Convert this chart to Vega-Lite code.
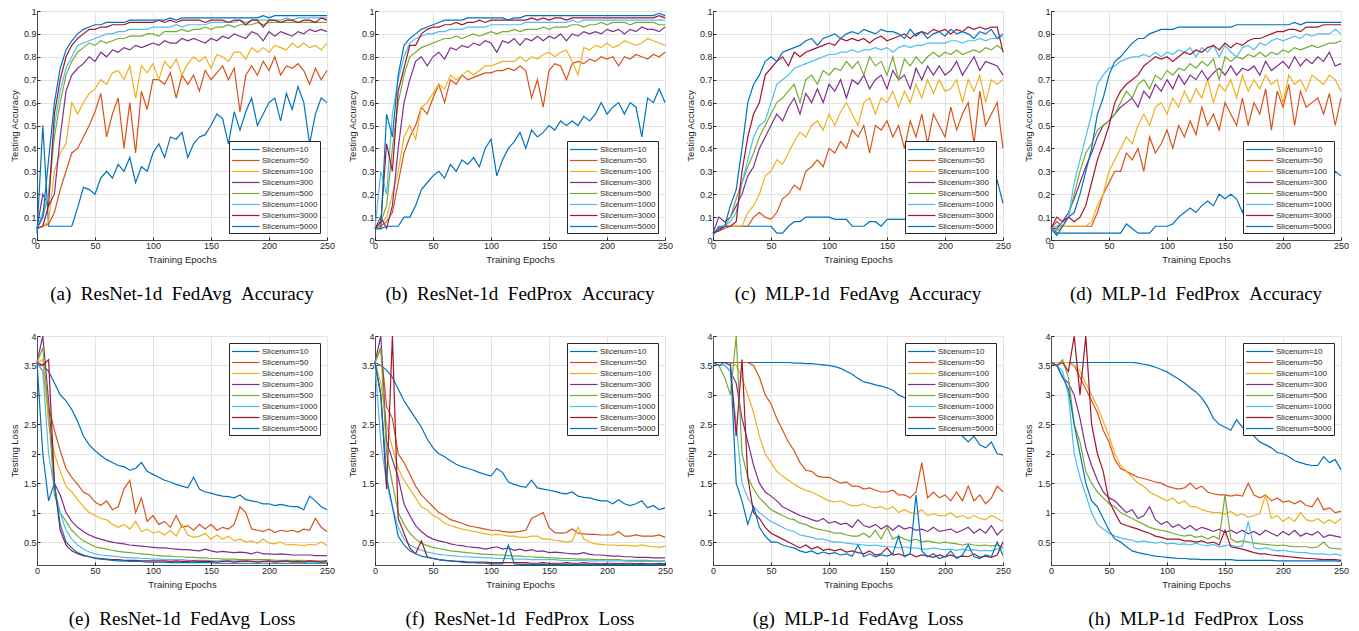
{
  "$schema": "https://vega.github.io/schema/vega-lite/v6.json",
  "background": "white",
  "padding": {"left": 8, "top": 6, "right": 0, "bottom": 0},
  "columns": 4,
  "bounds": "flush",
  "spacing": {"row": 96, "column": 48},
  "resolve": {"scale": {"color": "independent"}, "legend": {"color": "independent"}},
  "config": {
    "view": {"stroke": "#dedede", "strokeWidth": 1},
    "axis": {
      "labelFont": "Liberation Sans", "titleFont": "Liberation Sans",
      "labelFontSize": 9, "titleFontSize": 9.5, "titleFontWeight": "normal",
      "labelColor": "#262626", "titleColor": "#262626",
      "domainColor": "#262626", "tickColor": "#262626", "domainWidth": 0.8,
      "gridColor": "#e3e3e3", "tickSize": -3, "labelPadding": 4, "titlePadding": 4,
      "labelFlush": false
    },
    "legend": {
      "padding": 2, "strokeColor": "#262626", "fillColor": "white", "offset": 7,
      "labelFont": "Liberation Sans", "labelFontSize": 8, "labelColor": "#262626",
      "symbolType": "M-1,0H4", "symbolStrokeWidth": 1.5, "symbolSize": 121,
      "labelOffset": 18, "rowPadding": 0, "labelLimit": 200
    },
    "title": {
      "font": "Liberation Serif", "fontSize": 19, "fontWeight": "normal", "color": "black",
      "orient": "bottom", "anchor": "middle", "frame": "group", "offset": 21
    },
    "line": {"strokeWidth": 1.2, "clip": true}
  },
  "datasets": {
    "a": [
      {"e":0,"10":0.03,"50":0.05,"100":0.05,"300":0.05,"500":0.05,"1000":0.05,"3000":0.05,"5000":0.05},
      {"e":5,"10":0.5,"50":0.06,"100":0.06,"300":0.2,"500":0.1,"1000":0.12,"3000":0.06,"5000":0.1},
      {"e":10,"10":0.06,"50":0.07,"100":0.08,"300":0.15,"500":0.2,"1000":0.2,"3000":0.15,"5000":0.35},
      {"e":15,"10":0.06,"50":0.12,"100":0.3,"300":0.2,"500":0.45,"1000":0.5,"3000":0.55,"5000":0.6},
      {"e":20,"10":0.06,"50":0.22,"100":0.38,"300":0.45,"500":0.6,"1000":0.65,"3000":0.7,"5000":0.75},
      {"e":25,"10":0.06,"50":0.3,"100":0.42,"300":0.65,"500":0.72,"1000":0.75,"3000":0.8,"5000":0.83},
      {"e":30,"10":0.06,"50":0.38,"100":0.6,"300":0.72,"500":0.78,"1000":0.8,"3000":0.85,"5000":0.87},
      {"e":35,"10":0.14,"50":0.4,"100":0.55,"300":0.75,"500":0.82,"1000":0.85,"3000":0.88,"5000":0.9},
      {"e":40,"10":0.23,"50":0.45,"100":0.6,"300":0.77,"500":0.84,"1000":0.86,"3000":0.9,"5000":0.92},
      {"e":45,"10":0.22,"50":0.5,"100":0.64,"300":0.8,"500":0.86,"1000":0.87,"3000":0.92,"5000":0.93},
      {"e":50,"10":0.2,"50":0.56,"100":0.66,"300":0.78,"500":0.85,"1000":0.88,"3000":0.92,"5000":0.94},
      {"e":55,"10":0.27,"50":0.64,"100":0.7,"300":0.82,"500":0.87,"1000":0.89,"3000":0.93,"5000":0.94},
      {"e":60,"10":0.3,"50":0.45,"100":0.68,"300":0.8,"500":0.86,"1000":0.9,"3000":0.93,"5000":0.95},
      {"e":65,"10":0.27,"50":0.55,"100":0.73,"300":0.83,"500":0.87,"1000":0.9,"3000":0.94,"5000":0.95},
      {"e":70,"10":0.33,"50":0.62,"100":0.74,"300":0.82,"500":0.88,"1000":0.91,"3000":0.94,"5000":0.95},
      {"e":75,"10":0.3,"50":0.4,"100":0.7,"300":0.84,"500":0.88,"1000":0.91,"3000":0.94,"5000":0.95},
      {"e":80,"10":0.36,"50":0.6,"100":0.76,"300":0.83,"500":0.89,"1000":0.92,"3000":0.95,"5000":0.96},
      {"e":85,"10":0.25,"50":0.38,"100":0.62,"300":0.85,"500":0.89,"1000":0.92,"3000":0.95,"5000":0.96},
      {"e":90,"10":0.32,"50":0.65,"100":0.76,"300":0.84,"500":0.89,"1000":0.92,"3000":0.95,"5000":0.96},
      {"e":95,"10":0.3,"50":0.57,"100":0.73,"300":0.85,"500":0.9,"1000":0.92,"3000":0.95,"5000":0.96},
      {"e":100,"10":0.38,"50":0.7,"100":0.77,"300":0.86,"500":0.9,"1000":0.93,"3000":0.95,"5000":0.96},
      {"e":105,"10":0.42,"50":0.7,"100":0.7,"300":0.85,"500":0.89,"1000":0.93,"3000":0.96,"5000":0.96},
      {"e":110,"10":0.36,"50":0.68,"100":0.78,"300":0.87,"500":0.91,"1000":0.93,"3000":0.95,"5000":0.96},
      {"e":115,"10":0.45,"50":0.73,"100":0.75,"300":0.86,"500":0.91,"1000":0.93,"3000":0.96,"5000":0.97},
      {"e":120,"10":0.44,"50":0.62,"100":0.79,"300":0.86,"500":0.91,"1000":0.94,"3000":0.95,"5000":0.96},
      {"e":125,"10":0.47,"50":0.72,"100":0.72,"300":0.88,"500":0.92,"1000":0.93,"3000":0.96,"5000":0.97},
      {"e":130,"10":0.36,"50":0.68,"100":0.77,"300":0.87,"500":0.91,"1000":0.94,"3000":0.96,"5000":0.97},
      {"e":135,"10":0.42,"50":0.72,"100":0.8,"300":0.88,"500":0.92,"1000":0.94,"3000":0.96,"5000":0.97},
      {"e":140,"10":0.45,"50":0.65,"100":0.78,"300":0.87,"500":0.92,"1000":0.94,"3000":0.96,"5000":0.97},
      {"e":145,"10":0.46,"50":0.74,"100":0.8,"300":0.86,"500":0.93,"1000":0.94,"3000":0.95,"5000":0.97},
      {"e":150,"10":0.5,"50":0.7,"100":0.75,"300":0.88,"500":0.92,"1000":0.95,"3000":0.96,"5000":0.97},
      {"e":155,"10":0.55,"50":0.73,"100":0.81,"300":0.87,"500":0.93,"1000":0.95,"3000":0.96,"5000":0.97},
      {"e":160,"10":0.53,"50":0.76,"100":0.8,"300":0.89,"500":0.93,"1000":0.95,"3000":0.96,"5000":0.97},
      {"e":165,"10":0.42,"50":0.7,"100":0.78,"300":0.88,"500":0.94,"1000":0.95,"3000":0.95,"5000":0.97},
      {"e":170,"10":0.56,"50":0.75,"100":0.82,"300":0.9,"500":0.93,"1000":0.95,"3000":0.96,"5000":0.97},
      {"e":175,"10":0.48,"50":0.56,"100":0.82,"300":0.89,"500":0.94,"1000":0.96,"3000":0.96,"5000":0.97},
      {"e":180,"10":0.56,"50":0.72,"100":0.79,"300":0.88,"500":0.94,"1000":0.95,"3000":0.94,"5000":0.97},
      {"e":185,"10":0.62,"50":0.76,"100":0.84,"300":0.91,"500":0.94,"1000":0.96,"3000":0.96,"5000":0.97},
      {"e":190,"10":0.5,"50":0.72,"100":0.82,"300":0.9,"500":0.95,"1000":0.96,"3000":0.96,"5000":0.97},
      {"e":195,"10":0.55,"50":0.78,"100":0.84,"300":0.87,"500":0.94,"1000":0.96,"3000":0.93,"5000":0.98},
      {"e":200,"10":0.6,"50":0.74,"100":0.82,"300":0.91,"500":0.95,"1000":0.96,"3000":0.96,"5000":0.97},
      {"e":205,"10":0.62,"50":0.8,"100":0.85,"300":0.89,"500":0.95,"1000":0.96,"3000":0.96,"5000":0.98},
      {"e":210,"10":0.52,"50":0.72,"100":0.84,"300":0.91,"500":0.95,"1000":0.96,"3000":0.95,"5000":0.98},
      {"e":215,"10":0.64,"50":0.76,"100":0.83,"300":0.9,"500":0.95,"1000":0.97,"3000":0.96,"5000":0.98},
      {"e":220,"10":0.57,"50":0.75,"100":0.86,"300":0.89,"500":0.95,"1000":0.96,"3000":0.96,"5000":0.98},
      {"e":225,"10":0.67,"50":0.77,"100":0.84,"300":0.91,"500":0.95,"1000":0.97,"3000":0.95,"5000":0.98},
      {"e":230,"10":0.6,"50":0.74,"100":0.86,"300":0.9,"500":0.95,"1000":0.97,"3000":0.96,"5000":0.98},
      {"e":235,"10":0.42,"50":0.68,"100":0.84,"300":0.92,"500":0.95,"1000":0.97,"3000":0.96,"5000":0.98},
      {"e":240,"10":0.55,"50":0.75,"100":0.85,"300":0.91,"500":0.95,"1000":0.97,"3000":0.95,"5000":0.98},
      {"e":245,"10":0.62,"50":0.7,"100":0.83,"300":0.92,"500":0.95,"1000":0.97,"3000":0.97,"5000":0.98},
      {"e":250,"10":0.6,"50":0.74,"100":0.86,"300":0.91,"500":0.95,"1000":0.97,"3000":0.96,"5000":0.98}
    ],
    "b": [
      {"e":0,"10":0.05,"50":0.05,"100":0.05,"300":0.05,"500":0.05,"1000":0.05,"3000":0.05,"5000":0.05},
      {"e":5,"10":0.05,"50":0.06,"100":0.07,"300":0.1,"500":0.08,"1000":0.3,"3000":0.08,"5000":0.05},
      {"e":10,"10":0.06,"50":0.08,"100":0.1,"300":0.05,"500":0.15,"1000":0.2,"3000":0.42,"5000":0.55},
      {"e":15,"10":0.06,"50":0.12,"100":0.2,"300":0.15,"500":0.4,"1000":0.55,"3000":0.3,"5000":0.45},
      {"e":20,"10":0.06,"50":0.25,"100":0.3,"300":0.4,"500":0.6,"1000":0.7,"3000":0.65,"5000":0.72},
      {"e":25,"10":0.1,"50":0.38,"100":0.45,"300":0.6,"500":0.72,"1000":0.8,"3000":0.75,"5000":0.85},
      {"e":30,"10":0.1,"50":0.45,"100":0.5,"300":0.7,"500":0.8,"1000":0.86,"3000":0.85,"5000":0.88},
      {"e":35,"10":0.15,"50":0.5,"100":0.44,"300":0.78,"500":0.82,"1000":0.88,"3000":0.85,"5000":0.9},
      {"e":40,"10":0.22,"50":0.58,"100":0.58,"300":0.8,"500":0.84,"1000":0.89,"3000":0.9,"5000":0.92},
      {"e":45,"10":0.25,"50":0.55,"100":0.6,"300":0.76,"500":0.85,"1000":0.9,"3000":0.92,"5000":0.93},
      {"e":50,"10":0.28,"50":0.62,"100":0.64,"300":0.8,"500":0.86,"1000":0.9,"3000":0.93,"5000":0.94},
      {"e":55,"10":0.3,"50":0.68,"100":0.68,"300":0.82,"500":0.87,"1000":0.91,"3000":0.93,"5000":0.95},
      {"e":60,"10":0.27,"50":0.6,"100":0.66,"300":0.79,"500":0.88,"1000":0.91,"3000":0.94,"5000":0.96},
      {"e":65,"10":0.33,"50":0.7,"100":0.72,"300":0.84,"500":0.88,"1000":0.92,"3000":0.94,"5000":0.96},
      {"e":70,"10":0.3,"50":0.68,"100":0.7,"300":0.83,"500":0.89,"1000":0.92,"3000":0.95,"5000":0.96},
      {"e":75,"10":0.35,"50":0.72,"100":0.72,"300":0.85,"500":0.88,"1000":0.92,"3000":0.94,"5000":0.96},
      {"e":80,"10":0.33,"50":0.7,"100":0.74,"300":0.84,"500":0.89,"1000":0.93,"3000":0.95,"5000":0.97},
      {"e":85,"10":0.36,"50":0.71,"100":0.72,"300":0.86,"500":0.9,"1000":0.93,"3000":0.95,"5000":0.97},
      {"e":90,"10":0.32,"50":0.72,"100":0.74,"300":0.85,"500":0.89,"1000":0.93,"3000":0.96,"5000":0.97},
      {"e":95,"10":0.4,"50":0.73,"100":0.76,"300":0.87,"500":0.9,"1000":0.93,"3000":0.95,"5000":0.97},
      {"e":100,"10":0.44,"50":0.73,"100":0.76,"300":0.86,"500":0.91,"1000":0.94,"3000":0.96,"5000":0.97},
      {"e":105,"10":0.28,"50":0.74,"100":0.77,"300":0.82,"500":0.9,"1000":0.94,"3000":0.96,"5000":0.97},
      {"e":110,"10":0.35,"50":0.74,"100":0.78,"300":0.87,"500":0.91,"1000":0.94,"3000":0.96,"5000":0.97},
      {"e":115,"10":0.4,"50":0.75,"100":0.78,"300":0.86,"500":0.91,"1000":0.94,"3000":0.96,"5000":0.96},
      {"e":120,"10":0.43,"50":0.74,"100":0.78,"300":0.88,"500":0.92,"1000":0.94,"3000":0.96,"5000":0.97},
      {"e":125,"10":0.47,"50":0.76,"100":0.8,"300":0.85,"500":0.91,"1000":0.94,"3000":0.96,"5000":0.97},
      {"e":130,"10":0.4,"50":0.74,"100":0.78,"300":0.88,"500":0.92,"1000":0.95,"3000":0.96,"5000":0.98},
      {"e":135,"10":0.48,"50":0.62,"100":0.8,"300":0.87,"500":0.92,"1000":0.95,"3000":0.97,"5000":0.98},
      {"e":140,"10":0.45,"50":0.7,"100":0.79,"300":0.89,"500":0.92,"1000":0.95,"3000":0.96,"5000":0.98},
      {"e":145,"10":0.47,"50":0.58,"100":0.81,"300":0.87,"500":0.93,"1000":0.95,"3000":0.97,"5000":0.98},
      {"e":150,"10":0.5,"50":0.74,"100":0.82,"300":0.89,"500":0.92,"1000":0.95,"3000":0.96,"5000":0.98},
      {"e":155,"10":0.48,"50":0.77,"100":0.8,"300":0.88,"500":0.93,"1000":0.95,"3000":0.97,"5000":0.98},
      {"e":160,"10":0.52,"50":0.76,"100":0.82,"300":0.9,"500":0.93,"1000":0.95,"3000":0.97,"5000":0.98},
      {"e":165,"10":0.5,"50":0.7,"100":0.83,"300":0.87,"500":0.93,"1000":0.95,"3000":0.96,"5000":0.98},
      {"e":170,"10":0.52,"50":0.77,"100":0.78,"300":0.9,"500":0.94,"1000":0.96,"3000":0.97,"5000":0.98},
      {"e":175,"10":0.5,"50":0.78,"100":0.72,"300":0.89,"500":0.94,"1000":0.95,"3000":0.97,"5000":0.98},
      {"e":180,"10":0.54,"50":0.77,"100":0.84,"300":0.91,"500":0.93,"1000":0.96,"3000":0.97,"5000":0.98},
      {"e":185,"10":0.52,"50":0.79,"100":0.83,"300":0.9,"500":0.94,"1000":0.96,"3000":0.97,"5000":0.98},
      {"e":190,"10":0.55,"50":0.78,"100":0.85,"300":0.91,"500":0.94,"1000":0.96,"3000":0.97,"5000":0.98},
      {"e":195,"10":0.6,"50":0.8,"100":0.84,"300":0.9,"500":0.95,"1000":0.96,"3000":0.97,"5000":0.98},
      {"e":200,"10":0.55,"50":0.79,"100":0.86,"300":0.92,"500":0.94,"1000":0.96,"3000":0.97,"5000":0.98},
      {"e":205,"10":0.58,"50":0.8,"100":0.84,"300":0.91,"500":0.95,"1000":0.96,"3000":0.97,"5000":0.98},
      {"e":210,"10":0.6,"50":0.76,"100":0.85,"300":0.92,"500":0.95,"1000":0.96,"3000":0.97,"5000":0.98},
      {"e":215,"10":0.55,"50":0.8,"100":0.87,"300":0.9,"500":0.95,"1000":0.96,"3000":0.97,"5000":0.98},
      {"e":220,"10":0.6,"50":0.79,"100":0.86,"300":0.92,"500":0.94,"1000":0.96,"3000":0.97,"5000":0.98},
      {"e":225,"10":0.58,"50":0.81,"100":0.85,"300":0.91,"500":0.95,"1000":0.96,"3000":0.97,"5000":0.98},
      {"e":230,"10":0.45,"50":0.8,"100":0.86,"300":0.93,"500":0.95,"1000":0.96,"3000":0.97,"5000":0.98},
      {"e":235,"10":0.62,"50":0.79,"100":0.88,"300":0.92,"500":0.95,"1000":0.96,"3000":0.97,"5000":0.98},
      {"e":240,"10":0.6,"50":0.81,"100":0.87,"300":0.92,"500":0.95,"1000":0.96,"3000":0.97,"5000":0.98},
      {"e":245,"10":0.66,"50":0.8,"100":0.86,"300":0.91,"500":0.94,"1000":0.96,"3000":0.98,"5000":0.99},
      {"e":250,"10":0.6,"50":0.82,"100":0.85,"300":0.93,"500":0.94,"1000":0.96,"3000":0.97,"5000":0.98}
    ],
    "c": [
      {"e":0,"10":0.02,"50":0.03,"100":0.03,"300":0.03,"500":0.03,"1000":0.03,"3000":0.03,"5000":0.03},
      {"e":5,"10":0.06,"50":0.04,"100":0.05,"300":0.1,"500":0.05,"1000":0.05,"3000":0.04,"5000":0.05},
      {"e":10,"10":0.06,"50":0.05,"100":0.06,"300":0.08,"500":0.06,"1000":0.06,"3000":0.06,"5000":0.06},
      {"e":15,"10":0.06,"50":0.06,"100":0.06,"300":0.1,"500":0.1,"1000":0.08,"3000":0.06,"5000":0.15},
      {"e":20,"10":0.06,"50":0.06,"100":0.06,"300":0.15,"500":0.18,"1000":0.12,"3000":0.08,"5000":0.22},
      {"e":25,"10":0.06,"50":0.06,"100":0.06,"300":0.2,"500":0.25,"1000":0.25,"3000":0.3,"5000":0.4},
      {"e":30,"10":0.06,"50":0.06,"100":0.12,"300":0.28,"500":0.32,"1000":0.35,"3000":0.45,"5000":0.6},
      {"e":35,"10":0.06,"50":0.1,"100":0.15,"300":0.32,"500":0.38,"1000":0.45,"3000":0.55,"5000":0.68},
      {"e":40,"10":0.06,"50":0.12,"100":0.2,"300":0.4,"500":0.45,"1000":0.5,"3000":0.6,"5000":0.72},
      {"e":45,"10":0.06,"50":0.1,"100":0.28,"300":0.45,"500":0.5,"1000":0.52,"3000":0.72,"5000":0.78},
      {"e":50,"10":0.06,"50":0.09,"100":0.3,"300":0.5,"500":0.55,"1000":0.6,"3000":0.75,"5000":0.8},
      {"e":55,"10":0.03,"50":0.12,"100":0.35,"300":0.55,"500":0.6,"1000":0.68,"3000":0.78,"5000":0.78},
      {"e":60,"10":0.03,"50":0.18,"100":0.33,"300":0.52,"500":0.62,"1000":0.7,"3000":0.8,"5000":0.82},
      {"e":65,"10":0.06,"50":0.2,"100":0.38,"300":0.58,"500":0.65,"1000":0.72,"3000":0.76,"5000":0.83},
      {"e":70,"10":0.08,"50":0.24,"100":0.43,"300":0.62,"500":0.68,"1000":0.75,"3000":0.82,"5000":0.84},
      {"e":75,"10":0.08,"50":0.22,"100":0.47,"300":0.55,"500":0.6,"1000":0.76,"3000":0.8,"5000":0.85},
      {"e":80,"10":0.1,"50":0.3,"100":0.45,"300":0.64,"500":0.7,"1000":0.77,"3000":0.82,"5000":0.87},
      {"e":85,"10":0.1,"50":0.32,"100":0.5,"300":0.6,"500":0.72,"1000":0.78,"3000":0.83,"5000":0.88},
      {"e":90,"10":0.1,"50":0.35,"100":0.52,"300":0.66,"500":0.68,"1000":0.79,"3000":0.84,"5000":0.85},
      {"e":95,"10":0.1,"50":0.32,"100":0.48,"300":0.6,"500":0.74,"1000":0.8,"3000":0.85,"5000":0.88},
      {"e":100,"10":0.1,"50":0.4,"100":0.55,"300":0.68,"500":0.72,"1000":0.81,"3000":0.86,"5000":0.89},
      {"e":105,"10":0.09,"50":0.38,"100":0.5,"300":0.65,"500":0.75,"1000":0.81,"3000":0.85,"5000":0.9},
      {"e":110,"10":0.09,"50":0.43,"100":0.56,"300":0.7,"500":0.74,"1000":0.82,"3000":0.88,"5000":0.88},
      {"e":115,"10":0.09,"50":0.4,"100":0.6,"300":0.62,"500":0.78,"1000":0.82,"3000":0.87,"5000":0.9},
      {"e":120,"10":0.06,"50":0.48,"100":0.55,"300":0.7,"500":0.75,"1000":0.83,"3000":0.88,"5000":0.91},
      {"e":125,"10":0.06,"50":0.45,"100":0.5,"300":0.68,"500":0.78,"1000":0.82,"3000":0.87,"5000":0.9},
      {"e":130,"10":0.06,"50":0.5,"100":0.6,"300":0.72,"500":0.72,"1000":0.83,"3000":0.88,"5000":0.92},
      {"e":135,"10":0.08,"50":0.38,"100":0.62,"300":0.66,"500":0.8,"1000":0.83,"3000":0.86,"5000":0.91},
      {"e":140,"10":0.08,"50":0.5,"100":0.55,"300":0.7,"500":0.76,"1000":0.84,"3000":0.88,"5000":0.9},
      {"e":145,"10":0.06,"50":0.48,"100":0.62,"300":0.72,"500":0.78,"1000":0.83,"3000":0.89,"5000":0.92},
      {"e":150,"10":0.09,"50":0.52,"100":0.6,"300":0.66,"500":0.72,"1000":0.84,"3000":0.87,"5000":0.91},
      {"e":155,"10":0.09,"50":0.45,"100":0.65,"300":0.74,"500":0.8,"1000":0.82,"3000":0.88,"5000":0.91},
      {"e":160,"10":0.09,"50":0.5,"100":0.58,"300":0.7,"500":0.7,"1000":0.84,"3000":0.89,"5000":0.9},
      {"e":165,"10":0.09,"50":0.4,"100":0.65,"300":0.72,"500":0.79,"1000":0.85,"3000":0.9,"5000":0.88},
      {"e":170,"10":0.1,"50":0.52,"100":0.6,"300":0.66,"500":0.76,"1000":0.84,"3000":0.88,"5000":0.92},
      {"e":175,"10":0.1,"50":0.45,"100":0.68,"300":0.75,"500":0.8,"1000":0.85,"3000":0.9,"5000":0.89},
      {"e":180,"10":0.1,"50":0.55,"100":0.62,"300":0.7,"500":0.77,"1000":0.85,"3000":0.91,"5000":0.91},
      {"e":185,"10":0.1,"50":0.42,"100":0.7,"300":0.76,"500":0.8,"1000":0.86,"3000":0.9,"5000":0.88},
      {"e":190,"10":0.1,"50":0.55,"100":0.64,"300":0.72,"500":0.82,"1000":0.86,"3000":0.92,"5000":0.9},
      {"e":195,"10":0.1,"50":0.5,"100":0.7,"300":0.76,"500":0.8,"1000":0.86,"3000":0.91,"5000":0.91},
      {"e":200,"10":0.1,"50":0.45,"100":0.65,"300":0.72,"500":0.82,"1000":0.86,"3000":0.92,"5000":0.89},
      {"e":205,"10":0.11,"50":0.58,"100":0.66,"300":0.74,"500":0.81,"1000":0.87,"3000":0.9,"5000":0.92},
      {"e":210,"10":0.12,"50":0.48,"100":0.7,"300":0.78,"500":0.83,"1000":0.87,"3000":0.92,"5000":0.9},
      {"e":215,"10":0.13,"50":0.55,"100":0.6,"300":0.72,"500":0.81,"1000":0.86,"3000":0.91,"5000":0.91},
      {"e":220,"10":0.14,"50":0.6,"100":0.7,"300":0.76,"500":0.82,"1000":0.87,"3000":0.93,"5000":0.9},
      {"e":225,"10":0.15,"50":0.42,"100":0.65,"300":0.8,"500":0.83,"1000":0.87,"3000":0.92,"5000":0.88},
      {"e":230,"10":0.15,"50":0.65,"100":0.72,"300":0.74,"500":0.82,"1000":0.88,"3000":0.93,"5000":0.91},
      {"e":235,"10":0.18,"50":0.5,"100":0.6,"300":0.78,"500":0.84,"1000":0.87,"3000":0.92,"5000":0.9},
      {"e":240,"10":0.2,"50":0.55,"100":0.7,"300":0.77,"500":0.83,"1000":0.88,"3000":0.93,"5000":0.92},
      {"e":245,"10":0.26,"50":0.6,"100":0.68,"300":0.76,"500":0.85,"1000":0.88,"3000":0.93,"5000":0.88},
      {"e":250,"10":0.16,"50":0.4,"100":0.7,"300":0.72,"500":0.83,"1000":0.89,"3000":0.82,"5000":0.9}
    ],
    "d": [
      {"e":0,"10":0.06,"50":0.05,"100":0.05,"300":0.05,"500":0.05,"1000":0.05,"3000":0.05,"5000":0.05},
      {"e":5,"10":0.03,"50":0.08,"100":0.06,"300":0.05,"500":0.04,"1000":0.06,"3000":0.1,"5000":0.02},
      {"e":10,"10":0.03,"50":0.06,"100":0.06,"300":0.08,"500":0.06,"1000":0.08,"3000":0.08,"5000":0.06},
      {"e":15,"10":0.03,"50":0.06,"100":0.06,"300":0.12,"500":0.1,"1000":0.1,"3000":0.1,"5000":0.1},
      {"e":20,"10":0.03,"50":0.06,"100":0.06,"300":0.18,"500":0.2,"1000":0.25,"3000":0.08,"5000":0.12},
      {"e":25,"10":0.03,"50":0.06,"100":0.06,"300":0.25,"500":0.3,"1000":0.35,"3000":0.1,"5000":0.2},
      {"e":30,"10":0.03,"50":0.06,"100":0.06,"300":0.32,"500":0.38,"1000":0.45,"3000":0.15,"5000":0.3},
      {"e":35,"10":0.03,"50":0.06,"100":0.08,"300":0.38,"500":0.42,"1000":0.55,"3000":0.25,"5000":0.4},
      {"e":40,"10":0.03,"50":0.12,"100":0.15,"300":0.45,"500":0.48,"1000":0.68,"3000":0.35,"5000":0.55},
      {"e":45,"10":0.03,"50":0.2,"100":0.2,"300":0.5,"500":0.5,"1000":0.72,"3000":0.42,"5000":0.62},
      {"e":50,"10":0.03,"50":0.25,"100":0.3,"300":0.52,"500":0.52,"1000":0.75,"3000":0.5,"5000":0.72},
      {"e":55,"10":0.03,"50":0.3,"100":0.35,"300":0.55,"500":0.55,"1000":0.76,"3000":0.6,"5000":0.78},
      {"e":60,"10":0.03,"50":0.3,"100":0.4,"300":0.58,"500":0.6,"1000":0.78,"3000":0.65,"5000":0.8},
      {"e":65,"10":0.07,"50":0.38,"100":0.45,"300":0.6,"500":0.65,"1000":0.79,"3000":0.68,"5000":0.83},
      {"e":70,"10":0.05,"50":0.35,"100":0.42,"300":0.62,"500":0.62,"1000":0.8,"3000":0.7,"5000":0.86},
      {"e":75,"10":0.03,"50":0.4,"100":0.5,"300":0.58,"500":0.68,"1000":0.8,"3000":0.72,"5000":0.88},
      {"e":80,"10":0.03,"50":0.3,"100":0.55,"300":0.65,"500":0.7,"1000":0.81,"3000":0.76,"5000":0.88},
      {"e":85,"10":0.03,"50":0.45,"100":0.5,"300":0.62,"500":0.66,"1000":0.8,"3000":0.78,"5000":0.9},
      {"e":90,"10":0.06,"50":0.38,"100":0.58,"300":0.68,"500":0.72,"1000":0.82,"3000":0.8,"5000":0.91},
      {"e":95,"10":0.06,"50":0.42,"100":0.6,"300":0.65,"500":0.7,"1000":0.8,"3000":0.79,"5000":0.92},
      {"e":100,"10":0.06,"50":0.48,"100":0.55,"300":0.7,"500":0.74,"1000":0.82,"3000":0.8,"5000":0.92},
      {"e":105,"10":0.07,"50":0.4,"100":0.62,"300":0.66,"500":0.72,"1000":0.81,"3000":0.78,"5000":0.92},
      {"e":110,"10":0.1,"50":0.5,"100":0.58,"300":0.72,"500":0.75,"1000":0.83,"3000":0.8,"5000":0.93},
      {"e":115,"10":0.12,"50":0.45,"100":0.65,"300":0.68,"500":0.74,"1000":0.82,"3000":0.82,"5000":0.93},
      {"e":120,"10":0.14,"50":0.52,"100":0.6,"300":0.72,"500":0.77,"1000":0.84,"3000":0.81,"5000":0.93},
      {"e":125,"10":0.12,"50":0.46,"100":0.66,"300":0.7,"500":0.75,"1000":0.8,"3000":0.83,"5000":0.93},
      {"e":130,"10":0.15,"50":0.58,"100":0.62,"300":0.74,"500":0.78,"1000":0.84,"3000":0.82,"5000":0.93},
      {"e":135,"10":0.17,"50":0.5,"100":0.7,"300":0.7,"500":0.76,"1000":0.82,"3000":0.84,"5000":0.93},
      {"e":140,"10":0.15,"50":0.55,"100":0.6,"300":0.73,"500":0.79,"1000":0.85,"3000":0.85,"5000":0.93},
      {"e":145,"10":0.2,"50":0.48,"100":0.68,"300":0.75,"500":0.7,"1000":0.8,"3000":0.83,"5000":0.93},
      {"e":150,"10":0.18,"50":0.6,"100":0.65,"300":0.72,"500":0.8,"1000":0.85,"3000":0.86,"5000":0.93},
      {"e":155,"10":0.2,"50":0.55,"100":0.7,"300":0.76,"500":0.78,"1000":0.82,"3000":0.84,"5000":0.93},
      {"e":160,"10":0.18,"50":0.5,"100":0.62,"300":0.72,"500":0.8,"1000":0.8,"3000":0.86,"5000":0.94},
      {"e":165,"10":0.12,"50":0.62,"100":0.72,"300":0.75,"500":0.79,"1000":0.84,"3000":0.85,"5000":0.94},
      {"e":170,"10":0.2,"50":0.5,"100":0.65,"300":0.74,"500":0.81,"1000":0.85,"3000":0.87,"5000":0.94},
      {"e":175,"10":0.18,"50":0.6,"100":0.7,"300":0.76,"500":0.8,"1000":0.83,"3000":0.88,"5000":0.94},
      {"e":180,"10":0.2,"50":0.55,"100":0.66,"300":0.72,"500":0.82,"1000":0.86,"3000":0.88,"5000":0.94},
      {"e":185,"10":0.19,"50":0.66,"100":0.72,"300":0.78,"500":0.8,"1000":0.85,"3000":0.89,"5000":0.94},
      {"e":190,"10":0.21,"50":0.48,"100":0.68,"300":0.74,"500":0.82,"1000":0.87,"3000":0.9,"5000":0.94},
      {"e":195,"10":0.2,"50":0.65,"100":0.7,"300":0.76,"500":0.81,"1000":0.88,"3000":0.91,"5000":0.94},
      {"e":200,"10":0.22,"50":0.58,"100":0.6,"300":0.78,"500":0.83,"1000":0.87,"3000":0.91,"5000":0.94},
      {"e":205,"10":0.21,"50":0.68,"100":0.72,"300":0.75,"500":0.82,"1000":0.88,"3000":0.92,"5000":0.94},
      {"e":210,"10":0.23,"50":0.5,"100":0.68,"300":0.8,"500":0.84,"1000":0.89,"3000":0.92,"5000":0.95},
      {"e":215,"10":0.22,"50":0.65,"100":0.7,"300":0.76,"500":0.83,"1000":0.88,"3000":0.91,"5000":0.94},
      {"e":220,"10":0.24,"50":0.58,"100":0.65,"300":0.79,"500":0.84,"1000":0.9,"3000":0.93,"5000":0.95},
      {"e":225,"10":0.23,"50":0.6,"100":0.72,"300":0.77,"500":0.85,"1000":0.89,"3000":0.93,"5000":0.95},
      {"e":230,"10":0.25,"50":0.62,"100":0.7,"300":0.8,"500":0.84,"1000":0.9,"3000":0.93,"5000":0.95},
      {"e":235,"10":0.24,"50":0.55,"100":0.68,"300":0.78,"500":0.85,"1000":0.9,"3000":0.94,"5000":0.95},
      {"e":240,"10":0.26,"50":0.64,"100":0.72,"300":0.82,"500":0.86,"1000":0.9,"3000":0.94,"5000":0.95},
      {"e":245,"10":0.3,"50":0.5,"100":0.7,"300":0.76,"500":0.86,"1000":0.92,"3000":0.94,"5000":0.95},
      {"e":250,"10":0.28,"50":0.62,"100":0.65,"300":0.77,"500":0.87,"1000":0.9,"3000":0.94,"5000":0.95}
    ],
    "e": [
      {"e":0,"10":3.55,"50":3.55,"100":3.55,"300":3.55,"500":3.55,"1000":3.55,"3000":3.55,"5000":3.55},
      {"e":5,"10":3.5,"50":3.4,"100":3.6,"300":4.0,"500":3.8,"1000":3.4,"3000":3.5,"5000":2.0},
      {"e":10,"10":3.4,"50":2.8,"100":2.5,"300":2.9,"500":2.7,"1000":2.0,"3000":3.6,"5000":1.2},
      {"e":15,"10":3.2,"50":2.4,"100":2.0,"300":1.5,"500":1.3,"1000":1.4,"3000":1.5,"5000":1.5},
      {"e":20,"10":3.0,"50":2.05,"100":1.7,"300":1.3,"500":1.0,"1000":1.0,"3000":0.7,"5000":0.8},
      {"e":25,"10":2.9,"50":1.75,"100":1.45,"300":1.0,"500":0.85,"1000":0.7,"3000":0.45,"5000":0.5},
      {"e":30,"10":2.75,"50":1.6,"100":1.35,"300":0.85,"500":0.7,"1000":0.55,"3000":0.35,"5000":0.4},
      {"e":35,"10":2.55,"50":1.48,"100":1.22,"300":0.75,"500":0.6,"1000":0.45,"3000":0.3,"5000":0.32},
      {"e":40,"10":2.3,"50":1.35,"100":1.1,"300":0.68,"500":0.52,"1000":0.38,"3000":0.27,"5000":0.28},
      {"e":45,"10":2.15,"50":1.3,"100":1.0,"300":0.62,"500":0.47,"1000":0.33,"3000":0.25,"5000":0.25},
      {"e":50,"10":2.05,"50":1.18,"100":0.95,"300":0.58,"500":0.42,"1000":0.3,"3000":0.23,"5000":0.22},
      {"e":55,"10":1.97,"50":1.12,"100":0.9,"300":0.55,"500":0.4,"1000":0.28,"3000":0.22,"5000":0.21},
      {"e":60,"10":1.9,"50":1.2,"100":0.88,"300":0.52,"500":0.38,"1000":0.27,"3000":0.21,"5000":0.2},
      {"e":65,"10":1.85,"50":1.05,"100":0.8,"300":0.5,"500":0.36,"1000":0.26,"3000":0.2,"5000":0.19},
      {"e":70,"10":1.8,"50":1.1,"100":0.75,"300":0.48,"500":0.34,"1000":0.25,"3000":0.2,"5000":0.18},
      {"e":75,"10":1.78,"50":1.4,"100":0.8,"300":0.47,"500":0.33,"1000":0.24,"3000":0.19,"5000":0.18},
      {"e":80,"10":1.72,"50":1.55,"100":0.72,"300":0.45,"500":0.32,"1000":0.23,"3000":0.19,"5000":0.17},
      {"e":85,"10":1.75,"50":1.0,"100":0.85,"300":0.44,"500":0.31,"1000":0.23,"3000":0.19,"5000":0.17},
      {"e":90,"10":1.85,"50":1.25,"100":0.68,"300":0.43,"500":0.3,"1000":0.22,"3000":0.18,"5000":0.17},
      {"e":95,"10":1.7,"50":0.85,"100":0.72,"300":0.42,"500":0.29,"1000":0.22,"3000":0.18,"5000":0.16},
      {"e":100,"10":1.65,"50":0.95,"100":0.65,"300":0.41,"500":0.28,"1000":0.21,"3000":0.18,"5000":0.16},
      {"e":105,"10":1.6,"50":0.8,"100":0.68,"300":0.4,"500":0.27,"1000":0.21,"3000":0.18,"5000":0.16},
      {"e":110,"10":1.55,"50":0.85,"100":0.62,"300":0.4,"500":0.26,"1000":0.2,"3000":0.18,"5000":0.16},
      {"e":115,"10":1.52,"50":0.75,"100":0.7,"300":0.39,"500":0.26,"1000":0.2,"3000":0.17,"5000":0.15},
      {"e":120,"10":1.48,"50":0.95,"100":0.6,"300":0.38,"500":0.25,"1000":0.2,"3000":0.18,"5000":0.15},
      {"e":125,"10":1.45,"50":0.75,"100":0.8,"300":0.37,"500":0.25,"1000":0.2,"3000":0.17,"5000":0.15},
      {"e":130,"10":1.42,"50":0.78,"100":0.62,"300":0.37,"500":0.24,"1000":0.19,"3000":0.17,"5000":0.15},
      {"e":135,"10":1.6,"50":0.7,"100":0.58,"300":0.36,"500":0.24,"1000":0.19,"3000":0.18,"5000":0.15},
      {"e":140,"10":1.4,"50":0.8,"100":0.6,"300":0.35,"500":0.23,"1000":0.19,"3000":0.17,"5000":0.15},
      {"e":145,"10":1.35,"50":0.72,"100":0.65,"300":0.38,"500":0.23,"1000":0.19,"3000":0.17,"5000":0.15},
      {"e":150,"10":1.33,"50":0.8,"100":0.55,"300":0.35,"500":0.22,"1000":0.18,"3000":0.17,"5000":0.15},
      {"e":155,"10":1.3,"50":0.7,"100":0.62,"300":0.33,"500":0.22,"1000":0.18,"3000":0.16,"5000":0.14},
      {"e":160,"10":1.28,"50":0.75,"100":0.55,"300":0.34,"500":0.21,"1000":0.18,"3000":0.17,"5000":0.14},
      {"e":165,"10":1.27,"50":0.72,"100":0.6,"300":0.33,"500":0.21,"1000":0.18,"3000":0.18,"5000":0.14},
      {"e":170,"10":1.25,"50":0.8,"100":0.52,"300":0.32,"500":0.21,"1000":0.18,"3000":0.16,"5000":0.14},
      {"e":175,"10":1.3,"50":1.1,"100":0.55,"300":0.33,"500":0.2,"1000":0.18,"3000":0.17,"5000":0.14},
      {"e":180,"10":1.22,"50":1.0,"100":0.5,"300":0.32,"500":0.2,"1000":0.17,"3000":0.18,"5000":0.14},
      {"e":185,"10":1.2,"50":0.72,"100":0.52,"300":0.3,"500":0.2,"1000":0.17,"3000":0.17,"5000":0.14},
      {"e":190,"10":1.18,"50":0.7,"100":0.48,"300":0.33,"500":0.2,"1000":0.17,"3000":0.16,"5000":0.14},
      {"e":195,"10":1.15,"50":0.68,"100":0.55,"300":0.3,"500":0.2,"1000":0.17,"3000":0.17,"5000":0.14},
      {"e":200,"10":1.15,"50":0.72,"100":0.48,"300":0.3,"500":0.2,"1000":0.17,"3000":0.18,"5000":0.14},
      {"e":205,"10":1.12,"50":0.66,"100":0.47,"300":0.29,"500":0.19,"1000":0.17,"3000":0.16,"5000":0.14},
      {"e":210,"10":1.14,"50":0.7,"100":0.5,"300":0.3,"500":0.19,"1000":0.17,"3000":0.17,"5000":0.14},
      {"e":215,"10":1.12,"50":0.68,"100":0.45,"300":0.29,"500":0.19,"1000":0.17,"3000":0.18,"5000":0.14},
      {"e":220,"10":1.1,"50":0.7,"100":0.46,"300":0.28,"500":0.19,"1000":0.17,"3000":0.16,"5000":0.14},
      {"e":225,"10":1.1,"50":0.67,"100":0.45,"300":0.28,"500":0.19,"1000":0.16,"3000":0.17,"5000":0.14},
      {"e":230,"10":1.05,"50":0.72,"100":0.44,"300":0.28,"500":0.19,"1000":0.17,"3000":0.16,"5000":0.14},
      {"e":235,"10":1.28,"50":0.7,"100":0.46,"300":0.28,"500":0.18,"1000":0.16,"3000":0.18,"5000":0.14},
      {"e":240,"10":1.2,"50":0.9,"100":0.45,"300":0.27,"500":0.18,"1000":0.16,"3000":0.17,"5000":0.14},
      {"e":245,"10":1.1,"50":0.75,"100":0.5,"300":0.27,"500":0.18,"1000":0.16,"3000":0.16,"5000":0.14},
      {"e":250,"10":1.05,"50":0.68,"100":0.44,"300":0.27,"500":0.18,"1000":0.16,"3000":0.18,"5000":0.14}
    ],
    "f": [
      {"e":0,"10":3.55,"50":3.55,"100":3.55,"300":3.55,"500":3.55,"1000":3.55,"3000":3.55,"5000":3.55},
      {"e":5,"10":3.5,"50":3.8,"100":3.2,"300":4.0,"500":3.8,"1000":2.2,"3000":3.0,"5000":3.0},
      {"e":10,"10":3.42,"50":2.8,"100":2.5,"300":2.2,"500":2.0,"1000":1.5,"3000":1.4,"5000":1.6},
      {"e":15,"10":3.3,"50":2.6,"100":2.1,"300":1.9,"500":1.5,"1000":1.1,"3000":4.0,"5000":1.1},
      {"e":20,"10":3.1,"50":2.0,"100":1.75,"300":1.6,"500":1.0,"1000":0.75,"3000":0.9,"5000":0.6},
      {"e":25,"10":2.9,"50":1.85,"100":1.55,"300":1.15,"500":0.8,"1000":0.55,"3000":0.65,"5000":0.45},
      {"e":30,"10":2.75,"50":1.65,"100":1.4,"300":0.95,"500":0.65,"1000":0.45,"3000":0.4,"5000":0.35},
      {"e":35,"10":2.6,"50":1.45,"100":1.25,"300":0.78,"500":0.55,"1000":0.4,"3000":0.3,"5000":0.3},
      {"e":40,"10":2.45,"50":1.3,"100":1.1,"300":0.68,"500":0.48,"1000":0.36,"3000":0.52,"5000":0.26},
      {"e":45,"10":2.25,"50":1.2,"100":1.05,"300":0.6,"500":0.44,"1000":0.33,"3000":0.25,"5000":0.24},
      {"e":50,"10":2.1,"50":1.1,"100":0.95,"300":0.55,"500":0.41,"1000":0.31,"3000":0.22,"5000":0.22},
      {"e":55,"10":2.0,"50":1.0,"100":0.9,"300":0.52,"500":0.39,"1000":0.29,"3000":0.2,"5000":0.2},
      {"e":60,"10":1.95,"50":0.95,"100":0.82,"300":0.5,"500":0.37,"1000":0.28,"3000":0.19,"5000":0.19},
      {"e":65,"10":1.88,"50":0.88,"100":0.78,"300":0.47,"500":0.35,"1000":0.27,"3000":0.18,"5000":0.18},
      {"e":70,"10":1.82,"50":0.85,"100":0.75,"300":0.45,"500":0.34,"1000":0.26,"3000":0.17,"5000":0.17},
      {"e":75,"10":1.78,"50":0.82,"100":0.72,"300":0.44,"500":0.33,"1000":0.25,"3000":0.17,"5000":0.16},
      {"e":80,"10":1.75,"50":0.78,"100":0.7,"300":0.42,"500":0.32,"1000":0.25,"3000":0.16,"5000":0.15},
      {"e":85,"10":1.72,"50":0.76,"100":0.68,"300":0.41,"500":0.31,"1000":0.24,"3000":0.16,"5000":0.15},
      {"e":90,"10":1.68,"50":0.74,"100":0.66,"300":0.4,"500":0.3,"1000":0.24,"3000":0.16,"5000":0.14},
      {"e":95,"10":1.65,"50":0.72,"100":0.64,"300":0.38,"500":0.29,"1000":0.23,"3000":0.16,"5000":0.14},
      {"e":100,"10":1.62,"50":0.7,"100":0.62,"300":0.4,"500":0.29,"1000":0.23,"3000":0.15,"5000":0.13},
      {"e":105,"10":1.75,"50":0.7,"100":0.63,"300":0.42,"500":0.28,"1000":0.22,"3000":0.15,"5000":0.13},
      {"e":110,"10":1.68,"50":0.68,"100":0.62,"300":0.38,"500":0.28,"1000":0.22,"3000":0.15,"5000":0.13},
      {"e":115,"10":1.52,"50":0.67,"100":0.6,"300":0.4,"500":0.27,"1000":0.22,"3000":0.15,"5000":0.45},
      {"e":120,"10":1.48,"50":0.67,"100":0.6,"300":0.36,"500":0.26,"1000":0.21,"3000":0.15,"5000":0.13},
      {"e":125,"10":1.45,"50":0.68,"100":0.58,"300":0.38,"500":0.26,"1000":0.21,"3000":0.15,"5000":0.12},
      {"e":130,"10":1.43,"50":0.7,"100":0.58,"300":0.35,"500":0.25,"1000":0.21,"3000":0.15,"5000":0.12},
      {"e":135,"10":1.55,"50":0.9,"100":0.6,"300":0.37,"500":0.25,"1000":0.2,"3000":0.14,"5000":0.12},
      {"e":140,"10":1.42,"50":0.95,"100":0.6,"300":0.34,"500":0.24,"1000":0.2,"3000":0.14,"5000":0.12},
      {"e":145,"10":1.4,"50":1.0,"100":0.55,"300":0.35,"500":0.24,"1000":0.2,"3000":0.15,"5000":0.12},
      {"e":150,"10":1.38,"50":0.75,"100":0.55,"300":0.32,"500":0.23,"1000":0.2,"3000":0.14,"5000":0.12},
      {"e":155,"10":1.36,"50":0.66,"100":0.53,"300":0.33,"500":0.23,"1000":0.2,"3000":0.14,"5000":0.12},
      {"e":160,"10":1.33,"50":0.65,"100":0.52,"300":0.32,"500":0.22,"1000":0.19,"3000":0.14,"5000":0.12},
      {"e":165,"10":1.32,"50":0.66,"100":0.5,"300":0.31,"500":0.22,"1000":0.19,"3000":0.15,"5000":0.12},
      {"e":170,"10":1.35,"50":0.72,"100":0.52,"300":0.3,"500":0.22,"1000":0.19,"3000":0.14,"5000":0.12},
      {"e":175,"10":1.28,"50":0.65,"100":0.75,"300":0.3,"500":0.21,"1000":0.19,"3000":0.14,"5000":0.12},
      {"e":180,"10":1.26,"50":0.64,"100":0.55,"300":0.32,"500":0.21,"1000":0.19,"3000":0.15,"5000":0.12},
      {"e":185,"10":1.25,"50":0.63,"100":0.5,"300":0.29,"500":0.21,"1000":0.18,"3000":0.14,"5000":0.12},
      {"e":190,"10":1.22,"50":0.63,"100":0.47,"300":0.28,"500":0.2,"1000":0.18,"3000":0.14,"5000":0.12},
      {"e":195,"10":1.2,"50":0.62,"100":0.46,"300":0.28,"500":0.2,"1000":0.18,"3000":0.13,"5000":0.12},
      {"e":200,"10":1.2,"50":0.62,"100":0.45,"300":0.27,"500":0.2,"1000":0.18,"3000":0.14,"5000":0.12},
      {"e":205,"10":1.15,"50":0.62,"100":0.45,"300":0.26,"500":0.2,"1000":0.18,"3000":0.14,"5000":0.12},
      {"e":210,"10":1.22,"50":0.68,"100":0.44,"300":0.26,"500":0.2,"1000":0.18,"3000":0.13,"5000":0.12},
      {"e":215,"10":1.15,"50":0.6,"100":0.45,"300":0.25,"500":0.19,"1000":0.18,"3000":0.14,"5000":0.12},
      {"e":220,"10":1.12,"50":0.6,"100":0.44,"300":0.25,"500":0.19,"1000":0.17,"3000":0.14,"5000":0.12},
      {"e":225,"10":1.15,"50":0.62,"100":0.43,"300":0.24,"500":0.19,"1000":0.17,"3000":0.13,"5000":0.12},
      {"e":230,"10":1.2,"50":0.6,"100":0.45,"300":0.24,"500":0.19,"1000":0.17,"3000":0.14,"5000":0.12},
      {"e":235,"10":1.08,"50":0.6,"100":0.43,"300":0.24,"500":0.19,"1000":0.17,"3000":0.13,"5000":0.12},
      {"e":240,"10":1.12,"50":0.6,"100":0.42,"300":0.23,"500":0.18,"1000":0.17,"3000":0.13,"5000":0.12},
      {"e":245,"10":1.05,"50":0.62,"100":0.41,"300":0.23,"500":0.18,"1000":0.17,"3000":0.14,"5000":0.12},
      {"e":250,"10":1.08,"50":0.58,"100":0.43,"300":0.23,"500":0.18,"1000":0.17,"3000":0.13,"5000":0.12}
    ],
    "g": [
      {"e":0,"10":3.55,"50":3.55,"100":3.55,"300":3.55,"500":3.55,"1000":3.55,"3000":3.55,"5000":3.55},
      {"e":5,"10":3.55,"50":3.55,"100":3.55,"300":3.5,"500":3.5,"1000":3.5,"3000":3.55,"5000":3.5},
      {"e":10,"10":3.55,"50":3.55,"100":3.55,"300":3.5,"500":3.3,"1000":3.5,"3000":3.55,"5000":3.55},
      {"e":15,"10":3.55,"50":3.55,"100":3.55,"300":3.4,"500":3.0,"1000":3.4,"3000":3.5,"5000":3.55},
      {"e":20,"10":3.55,"50":3.55,"100":3.5,"300":3.2,"500":4.0,"1000":2.5,"3000":2.3,"5000":1.5},
      {"e":25,"10":3.55,"50":3.55,"100":3.3,"300":2.6,"500":2.0,"1000":1.5,"3000":3.6,"5000":1.2},
      {"e":30,"10":3.55,"50":3.55,"100":3.0,"300":2.2,"500":1.6,"1000":1.25,"3000":1.6,"5000":0.8},
      {"e":35,"10":3.55,"50":3.5,"100":2.7,"300":1.8,"500":1.4,"1000":1.1,"3000":1.0,"5000":1.1},
      {"e":40,"10":3.55,"50":3.3,"100":2.3,"300":1.5,"500":1.25,"1000":1.0,"3000":0.9,"5000":0.75},
      {"e":45,"10":3.55,"50":3.0,"100":2.0,"300":1.35,"500":1.15,"1000":0.92,"3000":0.75,"5000":0.6},
      {"e":50,"10":3.55,"50":2.85,"100":1.85,"300":1.28,"500":1.05,"1000":0.85,"3000":0.65,"5000":0.5},
      {"e":55,"10":3.55,"50":2.6,"100":1.7,"300":1.2,"500":1.0,"1000":0.8,"3000":0.6,"5000":0.5},
      {"e":60,"10":3.55,"50":2.4,"100":1.62,"300":1.1,"500":0.95,"1000":0.75,"3000":0.55,"5000":0.45},
      {"e":65,"10":3.55,"50":2.2,"100":1.55,"300":1.05,"500":0.9,"1000":0.7,"3000":0.5,"5000":0.42},
      {"e":70,"10":3.54,"50":2.05,"100":1.48,"300":1.0,"500":0.88,"1000":0.68,"3000":0.45,"5000":0.4},
      {"e":75,"10":3.54,"50":1.85,"100":1.42,"300":0.95,"500":0.82,"1000":0.62,"3000":0.4,"5000":0.35},
      {"e":80,"10":3.53,"50":1.72,"100":1.38,"300":0.92,"500":0.8,"1000":0.6,"3000":0.45,"5000":0.32},
      {"e":85,"10":3.53,"50":1.7,"100":1.35,"300":0.88,"500":0.75,"1000":0.58,"3000":0.38,"5000":0.35},
      {"e":90,"10":3.52,"50":1.62,"100":1.3,"300":0.85,"500":0.72,"1000":0.55,"3000":0.42,"5000":0.3},
      {"e":95,"10":3.51,"50":1.6,"100":1.25,"300":0.9,"500":0.7,"1000":0.55,"3000":0.36,"5000":0.33},
      {"e":100,"10":3.5,"50":1.6,"100":1.2,"300":0.82,"500":0.68,"1000":0.52,"3000":0.38,"5000":0.3},
      {"e":105,"10":3.48,"50":1.55,"100":1.18,"300":0.85,"500":0.65,"1000":0.5,"3000":0.35,"5000":0.32},
      {"e":110,"10":3.45,"50":1.5,"100":1.2,"300":0.8,"500":0.65,"1000":0.5,"3000":0.38,"5000":0.28},
      {"e":115,"10":3.4,"50":1.52,"100":1.15,"300":0.82,"500":0.62,"1000":0.48,"3000":0.33,"5000":0.3},
      {"e":120,"10":3.35,"50":1.45,"100":1.12,"300":0.75,"500":0.6,"1000":0.47,"3000":0.35,"5000":0.26},
      {"e":125,"10":3.28,"50":1.45,"100":1.12,"300":0.88,"500":0.6,"1000":0.46,"3000":0.32,"5000":0.45},
      {"e":130,"10":3.22,"50":1.4,"100":1.15,"300":0.78,"500":0.65,"1000":0.45,"3000":0.3,"5000":0.25},
      {"e":135,"10":3.2,"50":1.42,"100":1.1,"300":0.75,"500":0.58,"1000":0.44,"3000":0.35,"5000":0.3},
      {"e":140,"10":3.17,"50":1.38,"100":1.08,"300":0.8,"500":0.7,"1000":0.45,"3000":0.28,"5000":0.25},
      {"e":145,"10":3.15,"50":1.35,"100":1.1,"300":0.72,"500":0.55,"1000":0.43,"3000":0.3,"5000":0.28},
      {"e":150,"10":3.12,"50":1.35,"100":1.05,"300":0.78,"500":0.75,"1000":0.42,"3000":0.4,"5000":0.26},
      {"e":155,"10":3.08,"50":1.38,"100":1.1,"300":0.7,"500":0.55,"1000":0.42,"3000":0.28,"5000":0.3},
      {"e":160,"10":3.0,"50":1.3,"100":1.0,"300":0.78,"500":0.6,"1000":0.4,"3000":0.3,"5000":0.6},
      {"e":165,"10":2.95,"50":1.3,"100":1.05,"300":0.72,"500":0.55,"1000":0.42,"3000":0.26,"5000":0.25},
      {"e":170,"10":2.9,"50":1.25,"100":1.0,"300":0.75,"500":0.52,"1000":0.4,"3000":0.3,"5000":0.3},
      {"e":175,"10":2.82,"50":1.35,"100":0.98,"300":0.7,"500":0.55,"1000":0.4,"3000":0.25,"5000":1.3},
      {"e":180,"10":2.75,"50":1.85,"100":1.05,"300":0.72,"500":0.5,"1000":0.38,"3000":0.28,"5000":0.35},
      {"e":185,"10":2.68,"50":1.25,"100":0.95,"300":0.68,"500":0.52,"1000":0.38,"3000":0.26,"5000":0.25},
      {"e":190,"10":2.6,"50":1.35,"100":0.98,"300":0.75,"500":0.5,"1000":0.4,"3000":0.24,"5000":0.3},
      {"e":195,"10":2.55,"50":1.25,"100":0.95,"300":0.68,"500":0.48,"1000":0.38,"3000":0.28,"5000":0.22},
      {"e":200,"10":2.5,"50":1.3,"100":0.95,"300":0.7,"500":0.5,"1000":0.37,"3000":0.25,"5000":0.25},
      {"e":205,"10":2.42,"50":1.2,"100":1.0,"300":0.72,"500":0.48,"1000":0.38,"3000":0.28,"5000":0.35},
      {"e":210,"10":2.35,"50":1.35,"100":0.92,"300":0.66,"500":0.47,"1000":0.36,"3000":0.24,"5000":0.22},
      {"e":215,"10":2.3,"50":1.2,"100":0.95,"300":0.7,"500":0.45,"1000":0.38,"3000":0.26,"5000":0.28},
      {"e":220,"10":2.2,"50":1.45,"100":0.9,"300":0.75,"500":0.47,"1000":0.36,"3000":0.25,"5000":0.45},
      {"e":225,"10":2.3,"50":1.2,"100":0.95,"300":0.65,"500":0.45,"1000":0.37,"3000":0.3,"5000":0.25},
      {"e":230,"10":2.15,"50":1.3,"100":0.9,"300":0.72,"500":0.44,"1000":0.35,"3000":0.24,"5000":0.22},
      {"e":235,"10":2.1,"50":1.15,"100":0.88,"300":0.65,"500":0.45,"1000":0.36,"3000":0.26,"5000":0.28},
      {"e":240,"10":2.2,"50":1.25,"100":0.95,"300":0.78,"500":0.43,"1000":0.35,"3000":0.24,"5000":0.25},
      {"e":245,"10":2.0,"50":1.45,"100":0.9,"300":0.62,"500":0.45,"1000":0.38,"3000":0.28,"5000":0.5},
      {"e":250,"10":1.98,"50":1.35,"100":0.85,"300":0.72,"500":0.42,"1000":0.4,"3000":0.5,"5000":0.27}
    ],
    "h": [
      {"e":0,"10":3.55,"50":3.55,"100":3.55,"300":3.55,"500":3.55,"1000":3.55,"3000":3.55,"5000":3.55},
      {"e":5,"10":3.55,"50":3.55,"100":3.55,"300":3.5,"500":3.5,"1000":3.5,"3000":3.5,"5000":3.5},
      {"e":10,"10":3.55,"50":3.55,"100":3.55,"300":3.3,"500":3.6,"1000":3.4,"3000":3.55,"5000":3.3},
      {"e":15,"10":3.55,"50":3.55,"100":3.55,"300":3.2,"500":3.3,"1000":3.0,"3000":3.4,"5000":3.1},
      {"e":20,"10":3.55,"50":3.5,"100":3.5,"300":3.0,"500":2.5,"1000":2.0,"3000":4.0,"5000":2.5},
      {"e":25,"10":3.55,"50":3.3,"100":3.4,"300":2.6,"500":2.2,"1000":1.6,"3000":3.0,"5000":2.0},
      {"e":30,"10":3.55,"50":3.1,"100":3.2,"300":2.1,"500":1.7,"1000":1.3,"3000":4.0,"5000":1.5},
      {"e":35,"10":3.55,"50":2.9,"100":3.0,"300":1.8,"500":1.5,"1000":1.0,"3000":2.5,"5000":1.2},
      {"e":40,"10":3.55,"50":2.7,"100":2.8,"300":1.55,"500":1.35,"1000":0.8,"3000":2.0,"5000":1.1},
      {"e":45,"10":3.55,"50":2.4,"100":2.55,"300":1.35,"500":1.25,"1000":0.72,"3000":1.7,"5000":0.9},
      {"e":50,"10":3.55,"50":2.2,"100":2.3,"300":1.25,"500":1.15,"1000":0.65,"3000":1.2,"5000":0.7},
      {"e":55,"10":3.55,"50":1.9,"100":2.0,"300":1.2,"500":1.1,"1000":0.6,"3000":1.0,"5000":0.55},
      {"e":60,"10":3.55,"50":1.75,"100":1.8,"300":1.1,"500":1.0,"1000":0.57,"3000":0.82,"5000":0.5},
      {"e":65,"10":3.55,"50":1.7,"100":1.7,"300":1.0,"500":0.95,"1000":0.55,"3000":0.78,"5000":0.42},
      {"e":70,"10":3.55,"50":1.65,"100":1.6,"300":1.05,"500":0.9,"1000":0.53,"3000":0.75,"5000":0.35},
      {"e":75,"10":3.54,"50":1.6,"100":1.5,"300":0.9,"500":0.85,"1000":0.5,"3000":0.72,"5000":0.32},
      {"e":80,"10":3.52,"50":1.58,"100":1.45,"300":0.95,"500":0.8,"1000":0.52,"3000":0.68,"5000":0.3},
      {"e":85,"10":3.5,"50":1.55,"100":1.35,"300":1.1,"500":0.75,"1000":0.5,"3000":0.65,"5000":0.28},
      {"e":90,"10":3.47,"50":1.52,"100":1.3,"300":0.88,"500":0.72,"1000":0.48,"3000":0.6,"5000":0.26},
      {"e":95,"10":3.43,"50":1.5,"100":1.25,"300":0.8,"500":0.7,"1000":0.5,"3000":0.58,"5000":0.25},
      {"e":100,"10":3.39,"50":1.45,"100":1.2,"300":0.85,"500":0.68,"1000":0.47,"3000":0.55,"5000":0.24},
      {"e":105,"10":3.33,"50":1.42,"100":1.25,"300":0.75,"500":0.65,"1000":0.48,"3000":0.55,"5000":0.23},
      {"e":110,"10":3.27,"50":1.4,"100":1.15,"300":0.8,"500":0.62,"1000":0.46,"3000":0.55,"5000":0.22},
      {"e":115,"10":3.2,"50":1.42,"100":1.2,"300":0.72,"500":0.6,"1000":0.47,"3000":0.52,"5000":0.22},
      {"e":120,"10":3.12,"50":1.5,"100":1.1,"300":0.78,"500":0.62,"1000":0.45,"3000":0.52,"5000":0.21},
      {"e":125,"10":3.05,"50":1.4,"100":1.1,"300":0.7,"500":0.58,"1000":0.48,"3000":0.5,"5000":0.21},
      {"e":130,"10":2.95,"50":1.45,"100":1.05,"300":0.75,"500":0.6,"1000":0.45,"3000":0.52,"5000":0.2},
      {"e":135,"10":2.8,"50":1.35,"100":1.02,"300":0.72,"500":0.55,"1000":0.44,"3000":0.48,"5000":0.2},
      {"e":140,"10":2.6,"50":1.32,"100":1.0,"300":0.68,"500":0.6,"1000":0.46,"3000":0.5,"5000":0.2},
      {"e":145,"10":2.5,"50":1.3,"100":1.0,"300":0.72,"500":0.55,"1000":0.42,"3000":0.45,"5000":0.2},
      {"e":150,"10":2.45,"50":1.3,"100":0.98,"300":0.66,"500":1.3,"1000":0.44,"3000":0.7,"5000":0.2},
      {"e":155,"10":2.4,"50":1.28,"100":1.02,"300":0.7,"500":0.55,"1000":0.45,"3000":0.42,"5000":0.2},
      {"e":160,"10":2.58,"50":1.3,"100":0.95,"300":0.65,"500":0.5,"1000":0.42,"3000":0.4,"5000":0.19},
      {"e":165,"10":2.45,"50":1.28,"100":0.98,"300":0.7,"500":0.52,"1000":0.43,"3000":0.38,"5000":0.19},
      {"e":170,"10":2.38,"50":1.5,"100":0.92,"300":0.64,"500":0.5,"1000":0.85,"3000":0.35,"5000":0.19},
      {"e":175,"10":2.3,"50":1.3,"100":0.95,"300":0.68,"500":0.48,"1000":0.4,"3000":0.32,"5000":0.19},
      {"e":180,"10":2.2,"50":1.25,"100":0.98,"300":0.62,"500":0.47,"1000":0.38,"3000":0.3,"5000":0.19},
      {"e":185,"10":2.15,"50":1.3,"100":1.3,"300":0.7,"500":0.46,"1000":0.4,"3000":0.3,"5000":0.19},
      {"e":190,"10":2.1,"50":1.2,"100":0.9,"300":0.65,"500":0.45,"1000":0.37,"3000":0.28,"5000":0.19},
      {"e":195,"10":2.02,"50":1.25,"100":0.95,"300":0.6,"500":0.44,"1000":0.35,"3000":0.27,"5000":0.18},
      {"e":200,"10":2.0,"50":1.18,"100":0.85,"300":0.68,"500":0.45,"1000":0.36,"3000":0.26,"5000":0.18},
      {"e":205,"10":1.95,"50":1.2,"100":0.92,"300":0.62,"500":0.43,"1000":0.34,"3000":0.25,"5000":0.18},
      {"e":210,"10":1.88,"50":1.15,"100":0.85,"300":0.7,"500":0.42,"1000":0.33,"3000":0.24,"5000":0.18},
      {"e":215,"10":1.85,"50":1.2,"100":1.0,"300":0.6,"500":0.42,"1000":0.32,"3000":0.23,"5000":0.18},
      {"e":220,"10":1.82,"50":1.12,"100":0.88,"300":0.65,"500":0.42,"1000":0.32,"3000":0.22,"5000":0.18},
      {"e":225,"10":1.8,"50":1.1,"100":0.85,"300":0.62,"500":0.4,"1000":0.3,"3000":0.22,"5000":0.18},
      {"e":230,"10":1.8,"50":1.25,"100":0.9,"300":0.68,"500":0.42,"1000":0.3,"3000":0.21,"5000":0.18},
      {"e":235,"10":1.95,"50":1.05,"100":0.82,"300":0.58,"500":0.5,"1000":0.3,"3000":0.2,"5000":0.18},
      {"e":240,"10":1.85,"50":1.08,"100":0.88,"300":0.62,"500":0.4,"1000":0.28,"3000":0.2,"5000":0.18},
      {"e":245,"10":1.9,"50":1.0,"100":0.82,"300":0.6,"500":0.39,"1000":0.3,"3000":0.2,"5000":0.18},
      {"e":250,"10":1.73,"50":1.02,"100":0.9,"300":0.58,"500":0.38,"1000":0.27,"3000":0.19,"5000":0.17}
    ]
  },
  "concat": [
    {"width": 290, "height": 229, "data": {"name": "a"}, "title": "(a) \u00a0ResNet-1d \u00a0FedAvg \u00a0Accuracy",
     "transform": [{"fold": ["10","50","100","300","500","1000","3000","5000"], "as": ["k","v"]}],
     "mark": "line",
     "encoding": {
       "x": {"field": "e", "type": "quantitative", "scale": {"domain": [0,250]}, "axis": {"values": [0,50,100,150,200,250], "title": "Training Epochs"}},
       "y": {"field": "v", "type": "quantitative", "scale": {"domain": [0,1]}, "axis": {"values": [0,0.1,0.2,0.3,0.4,0.5,0.6,0.7,0.8,0.9,1], "format": "~g", "title": "Testing Accuracy"}},
       "color": {"field": "k", "type": "nominal", "scale": {"domain": ["10","50","100","300","500","1000","3000","5000"], "range": ["#0072BD","#D95319","#EDB120","#7E2F8E","#77AC30","#4DBEEE","#A2142F","#0072BD"]}, "legend": {"title": null, "orient": "bottom-right", "labelExpr": "'Slicenum=' + datum.label"}}
     }},
    {"width": 290, "height": 229, "data": {"name": "b"}, "title": "(b) \u00a0ResNet-1d \u00a0FedProx \u00a0Accuracy",
     "transform": [{"fold": ["10","50","100","300","500","1000","3000","5000"], "as": ["k","v"]}],
     "mark": "line",
     "encoding": {
       "x": {"field": "e", "type": "quantitative", "scale": {"domain": [0,250]}, "axis": {"values": [0,50,100,150,200,250], "title": "Training Epochs"}},
       "y": {"field": "v", "type": "quantitative", "scale": {"domain": [0,1]}, "axis": {"values": [0,0.1,0.2,0.3,0.4,0.5,0.6,0.7,0.8,0.9,1], "format": "~g", "title": "Testing Accuracy"}},
       "color": {"field": "k", "type": "nominal", "scale": {"domain": ["10","50","100","300","500","1000","3000","5000"], "range": ["#0072BD","#D95319","#EDB120","#7E2F8E","#77AC30","#4DBEEE","#A2142F","#0072BD"]}, "legend": {"title": null, "orient": "bottom-right", "labelExpr": "'Slicenum=' + datum.label"}}
     }},
    {"width": 290, "height": 229, "data": {"name": "c"}, "title": "(c) \u00a0MLP-1d \u00a0FedAvg \u00a0Accuracy",
     "transform": [{"fold": ["10","50","100","300","500","1000","3000","5000"], "as": ["k","v"]}],
     "mark": "line",
     "encoding": {
       "x": {"field": "e", "type": "quantitative", "scale": {"domain": [0,250]}, "axis": {"values": [0,50,100,150,200,250], "title": "Training Epochs"}},
       "y": {"field": "v", "type": "quantitative", "scale": {"domain": [0,1]}, "axis": {"values": [0,0.1,0.2,0.3,0.4,0.5,0.6,0.7,0.8,0.9,1], "format": "~g", "title": "Testing Accuracy"}},
       "color": {"field": "k", "type": "nominal", "scale": {"domain": ["10","50","100","300","500","1000","3000","5000"], "range": ["#0072BD","#D95319","#EDB120","#7E2F8E","#77AC30","#4DBEEE","#A2142F","#0072BD"]}, "legend": {"title": null, "orient": "bottom-right", "labelExpr": "'Slicenum=' + datum.label"}}
     }},
    {"width": 290, "height": 229, "data": {"name": "d"}, "title": "(d) \u00a0MLP-1d \u00a0FedProx \u00a0Accuracy",
     "transform": [{"fold": ["10","50","100","300","500","1000","3000","5000"], "as": ["k","v"]}],
     "mark": "line",
     "encoding": {
       "x": {"field": "e", "type": "quantitative", "scale": {"domain": [0,250]}, "axis": {"values": [0,50,100,150,200,250], "title": "Training Epochs"}},
       "y": {"field": "v", "type": "quantitative", "scale": {"domain": [0,1]}, "axis": {"values": [0,0.1,0.2,0.3,0.4,0.5,0.6,0.7,0.8,0.9,1], "format": "~g", "title": "Testing Accuracy"}},
       "color": {"field": "k", "type": "nominal", "scale": {"domain": ["10","50","100","300","500","1000","3000","5000"], "range": ["#0072BD","#D95319","#EDB120","#7E2F8E","#77AC30","#4DBEEE","#A2142F","#0072BD"]}, "legend": {"title": null, "orient": "bottom-right", "labelExpr": "'Slicenum=' + datum.label"}}
     }},
    {"width": 290, "height": 229, "data": {"name": "e"}, "title": "(e) \u00a0ResNet-1d \u00a0FedAvg \u00a0Loss",
     "transform": [{"fold": ["10","50","100","300","500","1000","3000","5000"], "as": ["k","v"]}],
     "mark": "line",
     "encoding": {
       "x": {"field": "e", "type": "quantitative", "scale": {"domain": [0,250]}, "axis": {"values": [0,50,100,150,200,250], "title": "Training Epochs"}},
       "y": {"field": "v", "type": "quantitative", "scale": {"domain": [0.11,4], "nice": false, "zero": false}, "axis": {"values": [0.5,1,1.5,2,2.5,3,3.5,4], "format": "~g", "title": "Testing Loss"}},
       "color": {"field": "k", "type": "nominal", "scale": {"domain": ["10","50","100","300","500","1000","3000","5000"], "range": ["#0072BD","#D95319","#EDB120","#7E2F8E","#77AC30","#4DBEEE","#A2142F","#0072BD"]}, "legend": {"title": null, "orient": "top-right", "labelExpr": "'Slicenum=' + datum.label"}}
     }},
    {"width": 290, "height": 229, "data": {"name": "f"}, "title": "(f) \u00a0ResNet-1d \u00a0FedProx \u00a0Loss",
     "transform": [{"fold": ["10","50","100","300","500","1000","3000","5000"], "as": ["k","v"]}],
     "mark": "line",
     "encoding": {
       "x": {"field": "e", "type": "quantitative", "scale": {"domain": [0,250]}, "axis": {"values": [0,50,100,150,200,250], "title": "Training Epochs"}},
       "y": {"field": "v", "type": "quantitative", "scale": {"domain": [0.11,4], "nice": false, "zero": false}, "axis": {"values": [0.5,1,1.5,2,2.5,3,3.5,4], "format": "~g", "title": "Testing Loss"}},
       "color": {"field": "k", "type": "nominal", "scale": {"domain": ["10","50","100","300","500","1000","3000","5000"], "range": ["#0072BD","#D95319","#EDB120","#7E2F8E","#77AC30","#4DBEEE","#A2142F","#0072BD"]}, "legend": {"title": null, "orient": "top-right", "labelExpr": "'Slicenum=' + datum.label"}}
     }},
    {"width": 290, "height": 229, "data": {"name": "g"}, "title": "(g) \u00a0MLP-1d \u00a0FedAvg \u00a0Loss",
     "transform": [{"fold": ["10","50","100","300","500","1000","3000","5000"], "as": ["k","v"]}],
     "mark": "line",
     "encoding": {
       "x": {"field": "e", "type": "quantitative", "scale": {"domain": [0,250]}, "axis": {"values": [0,50,100,150,200,250], "title": "Training Epochs"}},
       "y": {"field": "v", "type": "quantitative", "scale": {"domain": [0.11,4], "nice": false, "zero": false}, "axis": {"values": [0.5,1,1.5,2,2.5,3,3.5,4], "format": "~g", "title": "Testing Loss"}},
       "color": {"field": "k", "type": "nominal", "scale": {"domain": ["10","50","100","300","500","1000","3000","5000"], "range": ["#0072BD","#D95319","#EDB120","#7E2F8E","#77AC30","#4DBEEE","#A2142F","#0072BD"]}, "legend": {"title": null, "orient": "top-right", "labelExpr": "'Slicenum=' + datum.label"}}
     }},
    {"width": 290, "height": 229, "data": {"name": "h"}, "title": "(h) \u00a0MLP-1d \u00a0FedProx \u00a0Loss",
     "transform": [{"fold": ["10","50","100","300","500","1000","3000","5000"], "as": ["k","v"]}],
     "mark": "line",
     "encoding": {
       "x": {"field": "e", "type": "quantitative", "scale": {"domain": [0,250]}, "axis": {"values": [0,50,100,150,200,250], "title": "Training Epochs"}},
       "y": {"field": "v", "type": "quantitative", "scale": {"domain": [0.11,4], "nice": false, "zero": false}, "axis": {"values": [0.5,1,1.5,2,2.5,3,3.5,4], "format": "~g", "title": "Testing Loss"}},
       "color": {"field": "k", "type": "nominal", "scale": {"domain": ["10","50","100","300","500","1000","3000","5000"], "range": ["#0072BD","#D95319","#EDB120","#7E2F8E","#77AC30","#4DBEEE","#A2142F","#0072BD"]}, "legend": {"title": null, "orient": "top-right", "labelExpr": "'Slicenum=' + datum.label"}}
     }}
  ]
}
